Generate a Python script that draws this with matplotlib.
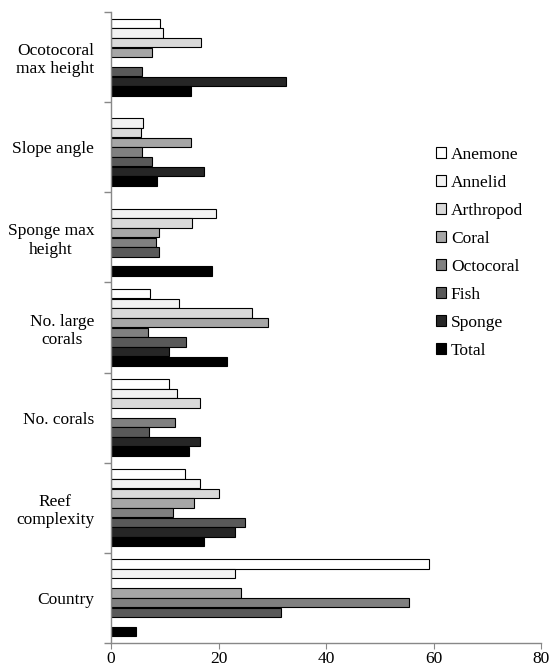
import numpy as np
import matplotlib
matplotlib.use("Agg")
from matplotlib import pyplot as plt

# groups, bottom to top
groups = ["Country", "Reef\ncomplexity", "No. corals", "No. large\ncorals",
          "Sponge max\nheight", "Slope angle", "Ocotocoral\nmax height"]
series = ["Anemone", "Annelid", "Arthropod", "Coral", "Octocoral", "Fish", "Sponge", "Total"]
colors = ["#ffffff", "#f2f2f2", "#d9d9d9", "#a6a6a6", "#808080", "#595959", "#262626", "#000000"]

# values per series, same order as groups (0 = no bar)
anemone = [59.2, 13.7, 10.7, 7.3, 0, 0, 9.1]
annelid = [23.1, 16.6, 12.3, 12.7, 19.5, 6.0, 9.7]
arthropod = [0, 20.0, 16.6, 26.2, 15.1, 5.5, 16.7]
coral = [24.1, 15.4, 0, 29.2, 9.0, 14.9, 7.6]
octocoral = [55.5, 11.5, 11.9, 6.9, 8.4, 5.8, 0]
fish = [31.6, 24.9, 7.1, 14.0, 8.9, 7.6, 5.8]
sponge = [0, 23.1, 16.6, 10.7, 0, 17.3, 32.5]
total = [4.7, 17.3, 14.5, 21.6, 18.7, 8.6, 14.9]
values = [anemone, annelid, arthropod, coral, octocoral, fish, sponge, total]

plt.rcParams['font.family'] = ['Liberation Serif', 'DejaVu Serif']

fig = plt.figure(figsize=(5.5, 6.72), dpi=100)
ax = fig.add_axes([111/550, 1 - 643/672, 430/550, 631/672])

y = np.arange(len(groups))
h = 0.107
for k, (name, vals) in enumerate(zip(series, values)):
    pos = y + (3.5 - k) * h
    v = np.array(vals, dtype=float)
    m = v > 0
    ax.barh(pos[m], v[m], height=h * 0.97, color=colors[k], edgecolor="black",
            linewidth=0.8, label=name)

ax.set_xlim(0, 80)
ax.set_ylim(-0.5, len(groups) - 0.5)
ax.set_xticks([0, 20, 40, 60, 80])
ax.set_yticks(y)
ax.set_yticklabels(groups, fontsize=12.5)
for t in ax.get_yticklabels():
    t.set_multialignment("center")
ax.set_yticks(np.arange(-0.5, len(groups), 1), minor=True)
ax.tick_params(axis="y", which="major", length=0, pad=12)
ax.tick_params(axis="y", which="minor", length=5, color="#888888", width=1)
ax.tick_params(axis="x", length=4, color="#888888", labelsize=12.5, pad=1.5)

for s in ["top", "right"]:
    ax.spines[s].set_visible(False)
for s in ["left", "bottom"]:
    ax.spines[s].set_color("#888888")
    ax.spines[s].set_linewidth(1)

fig.legend(loc="upper left", bbox_to_anchor=(436/550, 1 - 147/672), frameon=False,
           fontsize=12.5, handlelength=0.6, handleheight=0.6, handletextpad=0.25,
           labelspacing=0.69, borderpad=0, borderaxespad=0)

plt.savefig("out.png", dpi=100)
